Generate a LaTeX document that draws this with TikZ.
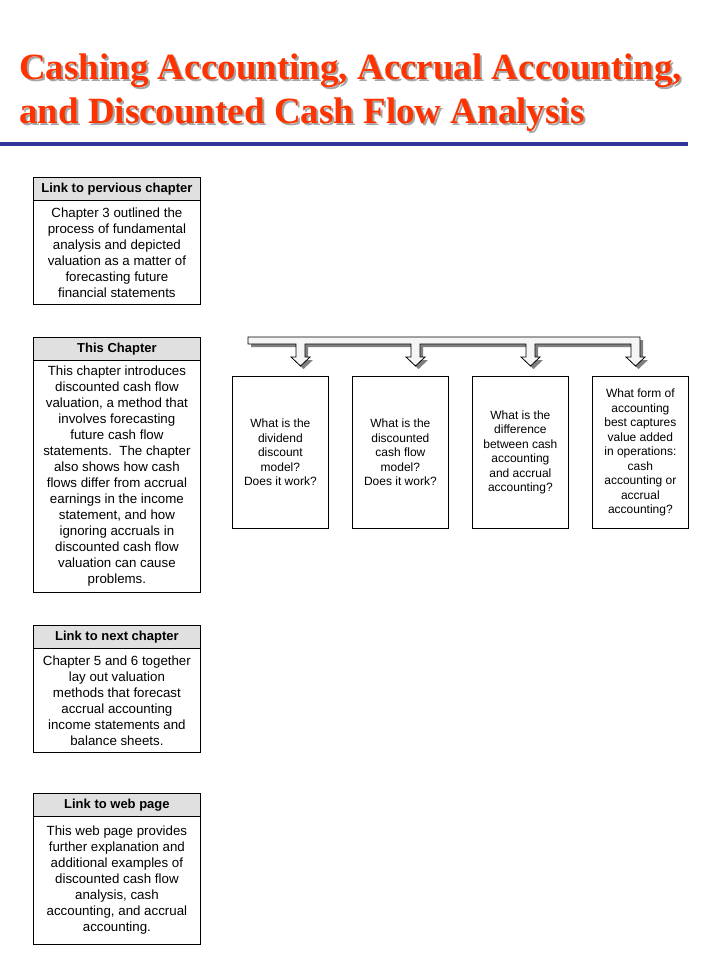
\documentclass[tikz,border=0pt]{standalone}
\usepackage{fontspec}
\setmainfont{Liberation Sans}
\newfontfamily\titlefont{Liberation Serif}
\usepackage{xcolor}
\usetikzlibrary{shapes}
\definecolor{titlered}{HTML}{FF3300}
\definecolor{rulerblue}{HTML}{333399}
\definecolor{headgray}{HTML}{E0E0E0}
\definecolor{shadowgray}{HTML}{808080}
\tikzset{x=1pt,y=-1pt}
\newcommand{\shadowed}[1]{\makebox[0pt][l]{\hspace{2pt}\raisebox{-2pt}{\color{shadowgray!70}#1}}#1}
\tikzstyle{title}=[anchor=base west,inner sep=0pt,text=titlered,font=\titlefont\bfseries\fontsize{37}{44}\selectfont]
\tikzstyle{header}=[rectangle,draw=black,fill=headgray,line width=0.8pt,anchor=north west,inner sep=0pt,minimum width=167pt,minimum height=23pt,font=\bfseries\fontsize{13}{14}\selectfont]
\tikzstyle{body}=[rectangle,draw=black,fill=white,line width=0.8pt,anchor=north west,inner sep=0pt,minimum width=167pt,align=center,font=\fontsize{13.3}{16}\selectfont]
\tikzstyle{question}=[rectangle,draw=black,fill=white,line width=0.8pt,anchor=north west,inner sep=0pt,minimum width=96pt,minimum height=152pt,align=center,font=\fontsize{12}{14.5}\selectfont]
\newcommand{\bracketpath}{(248,337) -- (640,337) -- (640,357) -- (645,357) -- (635.5,366) -- (626,357) -- (631,357) -- (631,344)
	-- (535,344) -- (535,357) -- (540,357) -- (530.5,366) -- (521,357) -- (526,357) -- (526,344)
	-- (420,344) -- (420,357) -- (425,357) -- (415.5,366) -- (406,357) -- (411,357) -- (411,344)
	-- (305,344) -- (305,357) -- (310,357) -- (300.5,366) -- (291,357) -- (296,357) -- (296,344)
	-- (248,344) -- cycle}

\begin{document}
\begin{tikzpicture}
	\useasboundingbox[fill=white] (0,0) rectangle (720,960);

	\node at (19,80) [title] (t1) {\shadowed{Cashing Accounting, Accrual Accounting,}};
	\node at (19,124) [title] (t2) {\shadowed{and Discounted Cash Flow Analysis}};
	\draw [rulerblue,line width=4pt] (0,144) -- (688,144);

	\node at (33,177) [header] (prevhead) {Link to pervious chapter};
	\node at (33,200) [body,minimum height=104pt] (prevbody) {Chapter 3 outlined the\\process of fundamental\\analysis and depicted\\valuation as a matter of\\forecasting future\\financial statements};
	\node at (33,337) [header] (thishead) {This Chapter};
	\node at (33,360) [body,minimum height=232pt] (thisbody) {This chapter introduces\\discounted cash flow\\valuation, a method that\\involves forecasting\\future cash flow\\statements.\ \ The chapter\\also shows how cash\\flows differ from accrual\\earnings in the income\\statement, and how\\ignoring accruals in\\discounted cash flow\\valuation can cause\\problems.};
	\node at (33,625) [header] (nexthead) {Link to next chapter};
	\node at (33,648) [body,minimum height=104pt] (nextbody) {Chapter 5 and 6 together\\lay out valuation\\methods that forecast\\accrual accounting\\income statements and\\balance sheets.};
	\node at (33,793) [header] (webhead) {Link to web page};
	\node at (33,816) [body,minimum height=128pt] (webbody) {This web page provides\\further explanation and\\additional examples of\\discounted cash flow\\analysis, cash\\accounting, and accrual\\accounting.};

	% bracket arrow over the questions
	\fill [shadowgray,shift={(3,3)}] \bracketpath;
	\draw [fill=gray!8,line width=0.8pt] \bracketpath;

	\node at (232,376) [question] (q1) {What is the\\dividend\\discount\\model?\\Does it work?};
	\node at (352,376) [question] (q2) {What is the\\discounted\\cash flow\\model?\\Does it work?};
	\node at (472,376) [question] (q3) {What is the\\difference\\between cash\\accounting\\and accrual\\accounting?};
	\node at (592,376) [question] (q4) {What form of\\accounting\\best captures\\value added\\in operations:\\cash\\accounting or\\accrual\\accounting?};
\end{tikzpicture}
\end{document}
